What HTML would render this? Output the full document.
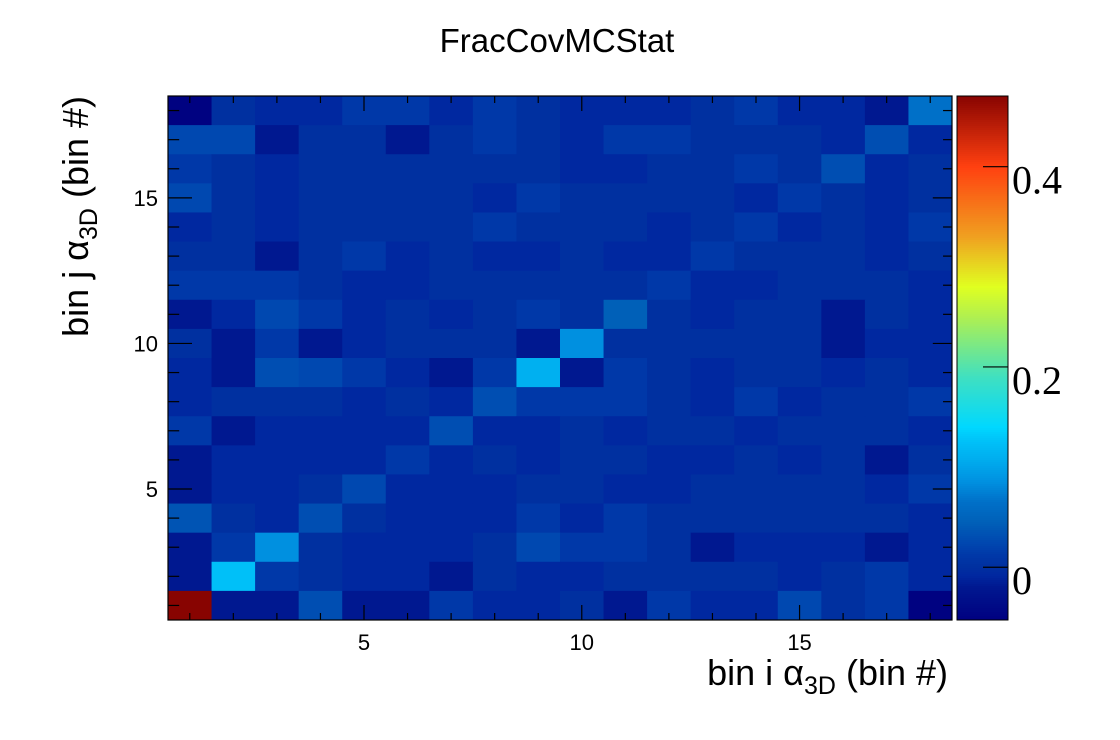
<!DOCTYPE html>
<html><head><meta charset="utf-8"><style>
html,body{margin:0;padding:0;background:#fff;}
svg{display:block;}
</style></head><body>
<svg id="chart" width="1120" height="740" xmlns="http://www.w3.org/2000/svg" style="font-family:'Liberation Sans',sans-serif">
<rect x="0" y="0" width="1120" height="740" fill="#fff"/>
<rect x="400" y="18" width="320" height="44" fill="#fff"/>
<text x="557" y="52" font-size="33" text-anchor="middle" fill="#000">FracCovMCStat</text>
<g id="cells"></g>
<g id="cbar"></g>
<g id="axes"></g>
<text x="948" y="685" font-size="36" text-anchor="end" fill="#000">bin i α<tspan font-size="25" dy="9">3D</tspan><tspan dy="-9"> (bin #)</tspan></text>
<text transform="translate(88,96) rotate(-90)" font-size="36" text-anchor="end" fill="#000">bin j α<tspan font-size="25" dy="9">3D</tspan><tspan dy="-9"> (bin #)</tspan></text>
</svg>
<script>
const A=-0.05,B=-0.02,C=-0.008,D=0.0,E=0.012,F=0.025;
// rows from j=18 (top) down to j=1; columns i=1..18
const zRows=[
[A,D,C,C,E,E,C,E,D, C,C,C,D,E,C,C,B,0.065],
[F,F,B,D,D,B,D,E,D, C,E,E,D,D,D,C,0.03,C],
[E,D,C,D,D,D,D,D,D, C,C,D,D,E,D,0.03,C,D],
[F,D,C,D,D,D,D,C,E, D,D,D,D,C,E,D,C,D],
[C,D,C,D,D,D,D,E,D, D,D,C,D,E,C,D,C,E],
[D,D,B,D,E,C,D,C,C, D,C,C,E,D,D,D,C,D],
[E,E,E,D,C,C,D,D,D, D,D,E,C,C,D,D,D,C],
[B,C,F,E,C,D,C,D,E, D,0.045,D,C,D,D,B,D,C],
[D,B,E,B,C,D,D,D,B, 0.085,D,D,D,D,D,B,C,C],
[C,B,0.03,F,E,C,B,E,0.11, B,E,D,C,D,D,C,D,C],
[C,D,D,D,C,D,C,0.03,E, E,E,D,C,E,C,D,D,E],
[E,B,C,C,C,C,0.03,C,C, D,C,D,D,C,D,D,D,C],
[B,C,C,C,C,E,C,D,C, D,D,C,C,D,C,D,B,D],
[B,C,C,D,F,C,C,C,D, D,C,C,D,D,D,D,C,E],
[0.035,D,C,0.03,D,C,C,C,E, C,E,D,D,D,D,D,D,C],
[B,E,0.085,D,C,C,C,D,F, E,E,D,B,C,C,C,B,C],
[B,0.125,E,D,C,C,B,D,C, C,D,D,D,D,C,D,E,C],
[0.47,B,B,0.03,B,B,E,C,C, D,B,E,C,C,F,D,E,A]
];
const xTicks=[5,10,15];
const yTicks=[5,10,15];
const zTicks=[0,0.2,0.4];
const zTickLabels=["0","0.2","0.4"];

const X0=168,X1=952,Y0=96,Y1=620,lo=0.5,hi=18.5;
const zMin=-0.0527,zMax=0.4706;
const sx=v=>X0+(v-lo)/(hi-lo)*(X1-X0);
const sy=v=>Y1-(v-lo)/(hi-lo)*(Y1-Y0);
const sz=v=>Y1-(v-zMin)/(zMax-zMin)*(Y1-Y0);
const stops=[[-0.053,[0,0,128]],[-0.02,[0,24,144]],[-0.008,[0,40,160]],[0,[0,48,160]],[0.012,[0,56,168]],[0.025,[0,72,176]],[0.045,[0,96,184]],[0.065,[0,112,200]],[0.085,[0,144,224]],[0.11,[0,176,240]],[0.125,[0,192,248]],[0.14,[0,216,255]],[0.19,[64,224,192]],[0.25,[176,240,80]],[0.28,[224,255,32]],[0.33,[240,160,32]],[0.4,[255,64,16]],[0.475,[128,0,0]]];
function col(z){
  if(z<=stops[0][0])return 'rgb(0,0,128)';
  for(let k=1;k<stops.length;k++){if(z<=stops[k][0]){const a=stops[k-1],b=stops[k];const t=(z-a[0])/(b[0]-a[0]);
    return 'rgb('+a[1].map((c,i)=>Math.round(c+(b[1][i]-c)*t)).join(',')+')';}}
  return 'rgb(128,0,0)';
}
const NS='http://www.w3.org/2000/svg';
function mk(tag,attrs,parent){const e=document.createElementNS(NS,tag);for(const k in attrs)e.setAttribute(k,attrs[k]);parent.appendChild(e);return e;}
const cells=document.getElementById('cells');
zRows.forEach((row,r)=>{const j=18-r;row.forEach((z,c)=>{const i=c+1;
  const e=mk('rect',{x:sx(i-0.5),y:sy(j+0.5),width:sx(i+0.5)-sx(i-0.5)+0.5,height:sy(j-0.5)-sy(j+0.5)+0.5,fill:col(z)},cells);
  
  
});});
const cb=document.getElementById('cbar');
for(let y=Y0;y<Y1;y+=2){const z=zMax-(y+1-Y0)/(Y1-Y0)*(zMax-zMin);
  const e=mk('rect',{x:957,y:y,width:51,height:2.5,fill:col(z)},cb);
  
  
}
mk('rect',{x:957,y:Y0,width:51,height:Y1-Y0,fill:'none',stroke:'#000','stroke-width':1},cb);
zTicks.forEach((z,k)=>{const y=sz(z);
  mk('line',{x1:983,x2:1008,y1:y,y2:y,stroke:'#000','stroke-width':1.2},cb);
  const t=mk('text',{x:1012,y:y+27,'font-size':40,fill:'#000',style:"font-family:'Liberation Serif',serif"},cb);
  t.textContent=zTickLabels[k];
  
  
});
const ax=document.getElementById('axes');
mk('rect',{x:X0,y:Y0,width:X1-X0,height:Y1-Y0,fill:'none',stroke:'#000','stroke-width':1.2},ax);
for(let v=1;v<=18;v++){const major=v%5===0;const L=major?15:7;
  const x=sx(v),y=sy(v);
  mk('line',{x1:x,x2:x,y1:Y1,y2:Y1-L,stroke:'#000','stroke-width':1.2},ax);
  mk('line',{x1:x,x2:x,y1:Y0,y2:Y0+L,stroke:'#000','stroke-width':1.2},ax);
  mk('line',{x1:X0,x2:X0+L*1.6,y1:y,y2:y,stroke:'#000','stroke-width':1.2},ax);
  mk('line',{x1:X1,x2:X1-L*1.6*0.8,y1:y,y2:y,stroke:'#000','stroke-width':1.2},ax);
}
xTicks.forEach(v=>{const t=mk('text',{x:sx(v),y:650,'font-size':22,'text-anchor':'middle',fill:'#000'},ax);t.textContent=v;
  
  });
yTicks.forEach(v=>{const t=mk('text',{x:158,y:sy(v)+8,'font-size':22,'text-anchor':'end',fill:'#000'},ax);t.textContent=v;
  
  });
</script>
</body></html>
